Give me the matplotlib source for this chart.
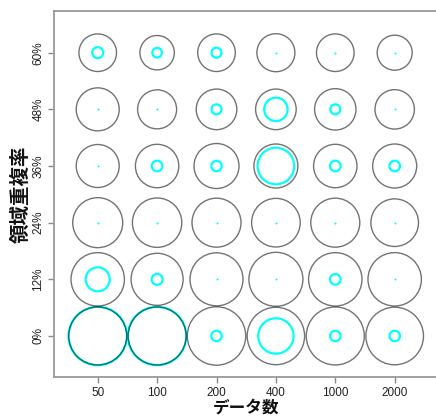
import matplotlib
matplotlib.use("Agg")
import matplotlib.pyplot as plt
import numpy as np

plt.rcParams['font.family'] = ['Liberation Sans', 'Noto Sans CJK JP', 'DejaVu Sans']

# categories
data_counts = ["50", "100", "200", "400", "1000", "2000"]
overlap_labels = ["0%", "12%", "24%", "36%", "48%", "60%"]

# outer (gray) circle radii, rows = overlap rate 0%..60%, cols = data count
gray_r = [
    [29.0, 29.0, 29.2, 28.7, 29.0, 28.8],
    [26.7, 26.0, 26.5, 27.0, 26.7, 26.7],
    [25.0, 24.7, 24.5, 24.3, 24.5, 23.8],
    [21.5, 21.7, 22.5, 22.0, 21.7, 22.0],
    [21.5, 19.5, 20.3, 20.3, 20.7, 19.7],
    [18.8, 17.2, 18.8, 19.0, 18.8, 17.5],
]
# inner (cyan) circle radii
cyan_r = [
    [29.2, 29.2, 5.2, 17.7, 5.2, 5.2],
    [12.0, 5.5, 0.0, 0.0, 5.3, 0.0],
    [0.0, 0.0, 0.0, 0.0, 0.0, 0.0],
    [0.0, 5.3, 5.2, 18.3, 5.3, 5.3],
    [0.0, 0.0, 5.0, 11.7, 5.0, 0.0],
    [5.5, 4.8, 5.0, 0.0, 0.0, 0.0],
]

W, H, DPI = 436, 416, 100
fig = plt.figure(figsize=(W / DPI, H / DPI), dpi=DPI)
ax = fig.add_axes([54 / W, (H - 377) / H, 384.4 / W, 366 / H])

gray = np.array(gray_r)
cyan = np.array(cyan_r)
ny, nx = gray.shape
xx, yy = np.meshgrid(np.arange(nx), np.arange(ny))
px2pt = 72.0 / DPI

# cyan circles (rings) and dots
ring = cyan > 0
ax.scatter(xx[ring], yy[ring], s=(2 * cyan[ring] * px2pt) ** 2, facecolors='none',
           edgecolors='#00FFFF', linewidths=1.6, zorder=2)
ax.scatter(xx[~ring], yy[~ring], s=2.2, color='#00FFFF', linewidths=0, zorder=2)
# gray circles (semi-transparent dark outlines)
ax.scatter(xx.ravel(), yy.ravel(), s=(2 * gray.ravel() * px2pt) ** 2, facecolors='none',
           edgecolors=(0, 0, 0, 0.55), linewidths=1.0, zorder=3)

ax.set_xlim(-0.736, 5.736)
ax.set_ylim(-0.724, 5.736)
ax.set_xticks(range(nx))
ax.set_xticklabels(data_counts)
ax.set_yticks(range(ny))
ax.set_yticklabels(overlap_labels, rotation=90, va='center')
ax.tick_params(axis='both', length=4, width=1.0, color='#888888', labelsize=8.5,
               labelcolor='#222222', pad=3)
for sp in ax.spines.values():
    sp.set_color('#999999')
    sp.set_linewidth(1.3)

ax.set_xlabel("データ数", family=['Noto Sans CJK JP'], fontsize=12, fontweight='bold',
              labelpad=0, color='#111111')
ax.set_ylabel("領域重複率", family=['Noto Sans CJK JP'], fontsize=14, fontweight='bold',
              labelpad=1, color='#111111')

fig.savefig("out.png", dpi=DPI)
